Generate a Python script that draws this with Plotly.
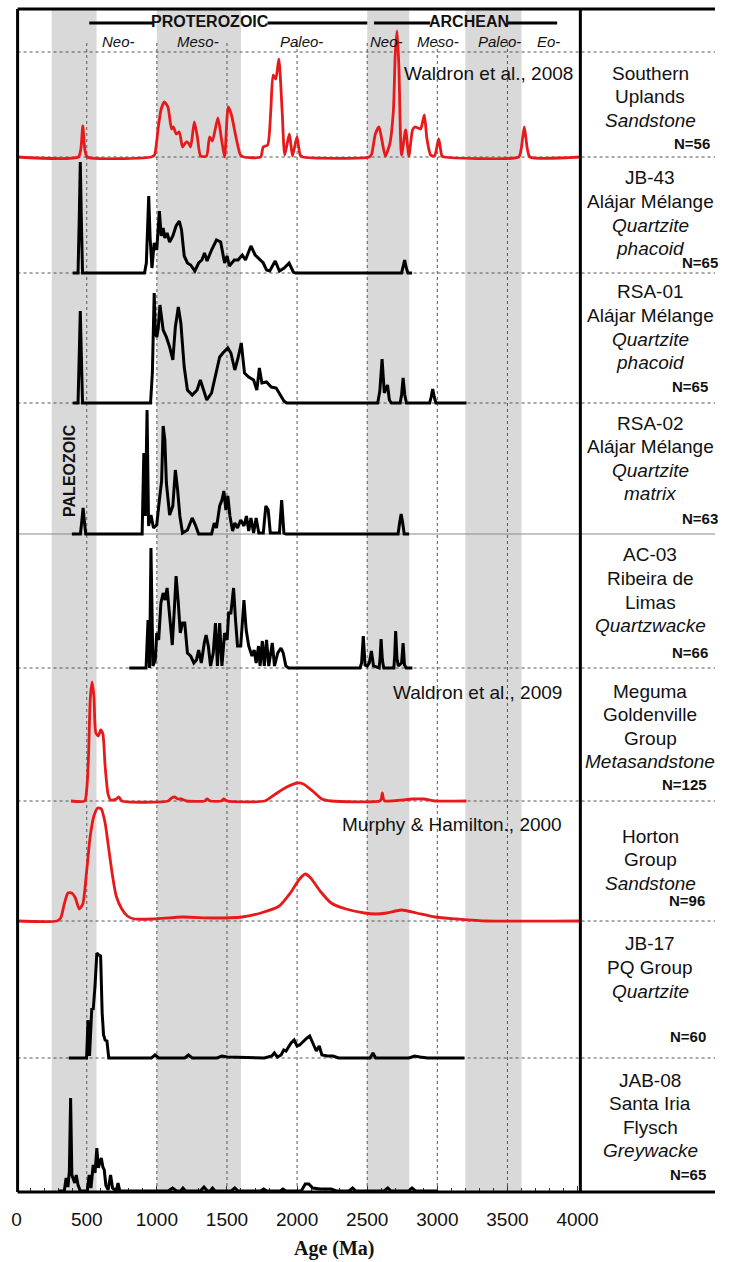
import plotly.graph_objects as go

# ---------------- detrital zircon age spectra (age Ma, relative probability) ----------------
southern_uplands = [(0, 0), (440, 0), (458, 8), (472, 31), (486, 8), (504, 0), (960, 0), (983, 2), (1010, 30),
                    (1031, 48), (1054, 55), (1079, 50), (1105, 28), (1118, 30), (1138, 23), (1160, 25), (1183, 10),
                    (1209, 15), (1225, 14), (1241, 10), (1267, 35), (1289, 20), (1312, 1), (1354, 1), (1376, 20),
                    (1396, 16), (1435, 39), (1461, 18), (1483, 0), (1509, 50), (1532, 42), (1564, 20), (1596, 2),
                    (1620, 0), (1740, 0), (1758, 10), (1790, 12), (1812, 45), (1829, 82), (1848, 78), (1870, 98),
                    (1893, 47), (1912, 2), (1945, 23), (1967, 1), (1999, 20), (2022, 2), (2040, 0), (2515, 0),
                    (2532, 3), (2558, 23), (2584, 30), (2606, 16), (2629, 1), (2661, 13), (2687, 47), (2700, 103),
                    (2713, 126), (2726, 90), (2745, 2), (2774, 27), (2797, 1), (2823, 27), (2839, 30), (2862, 29),
                    (2881, 28), (2907, 42), (2926, 18), (2952, 2), (2980, 1), (3010, 18), (3033, 1), (3050, 0),
                    (3580, 0), (3598, 8), (3620, 30), (3642, 8), (3660, 0), (4020, 0)]

jb43 = [(400, 0), (438, 0), (446, 50), (454, 111), (462, 50), (470, 0), (912, 0), (925, 10), (942, 77), (952, 35),
        (965, 5), (981, 30), (999, 23), (1018, 62), (1031, 37), (1045, 45), (1057, 35), (1073, 40), (1091, 31),
        (1114, 37), (1137, 47), (1160, 52), (1176, 43), (1195, 17), (1218, 10), (1241, 8), (1271, 2), (1298, 10),
        (1321, 13), (1340, 20), (1358, 12), (1390, 23), (1425, 33), (1455, 31), (1483, 10), (1501, 17), (1517, 7),
        (1552, 13), (1579, 13), (1609, 18), (1632, 13), (1671, 27), (1701, 18), (1736, 13), (1759, 10), (1782, 3),
        (1805, 2), (1844, 12), (1874, 2), (1908, 5), (1943, 10), (1973, 1), (1989, 0), (2745, 0), (2757, 6),
        (2767, 13), (2777, 6), (2790, 0), (2820, 0)]

rsa01 = [(400, 0), (438, 0), (446, 45), (454, 92), (462, 45), (470, 0), (955, 0), (968, 30), (981, 110), (990, 70),
         (1000, 66), (1010, 75), (1022, 98), (1035, 80), (1045, 73), (1068, 66), (1091, 56), (1114, 43), (1132, 76),
         (1153, 96), (1171, 80), (1195, 36), (1218, 13), (1252, 8), (1287, 13), (1310, 23), (1333, 13), (1356, 3),
         (1390, 10), (1425, 33), (1448, 46), (1471, 50), (1506, 55), (1528, 50), (1556, 33), (1579, 45), (1602, 60),
         (1625, 30), (1655, 26), (1690, 23), (1713, 13), (1731, 35), (1749, 20), (1782, 21), (1816, 16), (1851, 15),
         (1885, 6), (1906, 2), (1925, 0), (2575, 0), (2590, 12), (2606, 44), (2622, 10), (2635, 14), (2645, 18),
         (2658, 3), (2672, 0), (2735, 0), (2745, 8), (2756, 25), (2768, 8), (2780, 0), (2945, 0), (2956, 6),
         (2967, 14), (2978, 6), (2990, 0), (3208, 0)]

rsa02 = [(394, 0), (455, 0), (465, 13), (474, 26), (483, 13), (493, 0), (895, 0), (907, 81), (918, 18), (930, 124),
         (941, 8), (958, 19), (976, 6), (999, 9), (1018, 34), (1034, 53), (1045, 108), (1057, 94), (1068, 51),
         (1091, 19), (1114, 28), (1132, 64), (1148, 44), (1164, 18), (1183, 1), (1218, 4), (1252, 16), (1275, 9),
         (1298, 0), (1390, 0), (1409, 11), (1425, 6), (1448, 28), (1464, 34), (1478, 43), (1492, 24), (1506, 38),
         (1521, 18), (1540, 3), (1556, 11), (1575, 6), (1598, 14), (1621, 8), (1639, 18), (1655, 3), (1671, 16),
         (1690, 1), (1708, 16), (1727, 1), (1759, 1), (1777, 28), (1794, 24), (1809, 1), (1874, 1), (1890, 34),
         (1906, 1), (1920, 0), (2720, 0), (2732, 12), (2742, 20), (2752, 12), (2764, 0), (2799, 0)]

ac03 = [(803, 0), (923, 0), (937, 48), (948, 0), (958, 120), (972, 2), (989, 8), (999, 35), (1013, 28), (1029, 65),
        (1045, 75), (1059, 68), (1073, 80), (1091, 55), (1110, 23), (1126, 62), (1137, 92), (1153, 65), (1167, 35),
        (1183, 45), (1199, 45), (1218, 15), (1241, 12), (1264, 5), (1282, 8), (1298, 18), (1317, 5), (1338, 25),
        (1351, 33), (1367, 22), (1383, 2), (1402, 15), (1418, 45), (1432, 2), (1448, 45), (1464, 2), (1483, 35),
        (1501, 28), (1512, 55), (1528, 55), (1547, 80), (1561, 48), (1575, 22), (1598, 22), (1621, 68), (1637, 38),
        (1655, 22), (1678, 12), (1694, 18), (1708, 5), (1725, 22), (1736, 2), (1752, 27), (1766, 2), (1782, 28),
        (1798, 2), (1823, 25), (1839, 2), (1862, 15), (1885, 20), (1901, 15), (1920, 2), (1939, 0), (2449, 0),
        (2460, 5), (2472, 32), (2485, 3), (2500, 2), (2515, 5), (2530, 17), (2545, 2), (2585, 0), (2592, 10),
        (2599, 29), (2608, 8), (2618, 0), (2690, 0), (2696, 12), (2703, 37), (2712, 10), (2722, 2), (2745, 5),
        (2756, 25), (2766, 3), (2778, 0), (2822, 0)]

meguma = [(387, 0), (485, 0), (500, 12), (512, 42), (525, 102), (538, 119), (551, 105), (565, 68), (583, 65),
          (599, 71), (615, 67), (631, 35), (652, 7), (670, 1), (690, 1), (710, 2), (729, 4), (750, 0), (1080, 0),
          (1105, 3), (1128, 4), (1150, 2), (1173, 2), (1212, 0), (1340, 0), (1358, 2), (1380, 0), (1460, 0),
          (1477, 2), (1500, 0), (1768, 0), (1846, 7), (1926, 14), (2005, 18), (2044, 17), (2111, 10), (2177, 2),
          (2243, 0), (2590, 0), (2600, 2), (2608, 8), (2616, 2), (2626, 0), (2824, 2), (2904, 2), (2983, 0),
          (3208, 0)]

horton = [(0, 0), (287, 0), (314, 3), (340, 17), (366, 28), (393, 28), (419, 23), (446, 12), (472, 17), (498, 48),
          (525, 85), (551, 105), (578, 113), (604, 112), (631, 98), (657, 72), (684, 45), (710, 25), (750, 12),
          (789, 5), (842, 2), (974, 2), (1186, 4), (1397, 3), (1608, 4), (1741, 8), (1873, 15), (1952, 28),
          (2018, 42), (2058, 47), (2097, 43), (2164, 30), (2243, 18), (2349, 12), (2481, 8), (2560, 7), (2640, 8),
          (2745, 11), (2851, 8), (2983, 4), (3142, 2), (3353, 0), (4020, 0)]

jb17 = [(372, 0), (499, 0), (509, 38), (520, 2), (536, 50), (546, 48), (559, 72), (572, 105), (586, 103), (599, 102),
        (610, 45), (620, 23), (631, 18), (644, 17), (657, 0), (961, 0), (987, 3), (1014, 0), (1199, 0), (1225, 3),
        (1252, 0), (1430, 0), (1463, 2), (1503, 1), (1767, 0), (1820, 2), (1838, 5), (1860, 1), (1886, 3),
        (1905, 8), (1921, 7), (1939, 11), (1957, 15), (1979, 18), (2000, 12), (2018, 13), (2045, 17), (2071, 20),
        (2090, 22), (2111, 15), (2137, 7), (2158, 12), (2177, 3), (2217, 2), (2256, 2), (2296, 0), (2521, 0),
        (2541, 5), (2560, 0), (2798, 0), (2838, 2), (2877, 1), (2930, 0), (3194, 0)]

jab08 = [(300, 0), (340, 0), (353, 13), (366, 4), (376, 20), (385, 93), (394, 16), (414, 8), (425, 16), (438, 6),
         (454, 0), (504, 0), (517, 16), (530, 3), (546, 26), (559, 18), (572, 43), (583, 23), (594, 29), (604, 33),
         (615, 24), (625, 21), (636, 6), (652, 1), (670, 16), (684, 3), (710, 0), (723, 8), (736, 0), (1080, 0),
         (1112, 3), (1140, 0), (1170, 0), (1186, 3), (1205, 0), (1310, 0), (1336, 4), (1360, 0), (1380, 0),
         (1397, 3), (1415, 0), (1530, 0), (1556, 3), (1580, 0), (1740, 0), (1762, 2), (1785, 0), (1880, 0),
         (1899, 2), (1920, 0), (2030, 0), (2058, 7), (2084, 7), (2111, 3), (2164, 2), (2243, 2), (2280, 0),
         (2370, 0), (2396, 3), (2420, 0), (2620, 0), (2647, 3), (2670, 0), (2795, 0), (2819, 3), (2845, 0),
         (3000, 0)]

# sample descriptions: (text, italic) lines, and number of analyses
sample_lines = [
    [("Southern", 0), ("Uplands", 0), ("Sandstone", 1)],
    [("JB-43", 0), ("Alájar Mélange", 0), ("Quartzite", 1), ("phacoid", 1)],
    [("RSA-01", 0), ("Alájar Mélange", 0), ("Quartzite", 1), ("phacoid", 1)],
    [("RSA-02", 0), ("Alájar Mélange", 0), ("Quartzite", 1), ("matrix", 1)],
    [("AC-03", 0), ("Ribeira de", 0), ("Limas", 0), ("Quartzwacke", 1)],
    [("Meguma", 0), ("Goldenville", 0), ("Group", 0), ("Metasandstone", 1)],
    [("Horton", 0), ("Group", 0), ("Sandstone", 1)],
    [("JB-17", 0), ("PQ Group", 0), ("Quartzite", 1)],
    [("JAB-08", 0), ("Santa Iria", 0), ("Flysch", 0), ("Greywacke", 1)],
]
sample_n = ["N=56", "N=65", "N=65", "N=63", "N=66", "N=125", "N=96", "N=60", "N=65"]
published = [True, False, False, False, False, True, True, False, False]
sources = {0: "Waldron et al., 2008", 5: "Waldron et al., 2009", 6: "Murphy & Hamilton., 2000"}
curves = [southern_uplands, jb43, rsa01, rsa02, ac03, meguma, horton, jb17, jab08]

# geologic time divisions
shaded_intervals = [(250, 570), (1000, 1600), (2500, 2800), (3200, 3600)]
grid_ages = [500, 1000, 1500, 2000, 2500, 3000, 3500]
era_labels = [("Neo-", 117), ("Meso-", 199), ("Paleo-", 306), ("Neo-", 394), ("Meso-", 447), ("Paleo-", 511), ("Eo-", 561)]

# ---------------- layout geometry (pixels) ----------------
W, H = 733, 1262
X_LEFT, X_DIV = 13, 594
Y_TOP, Y_HEAD, Y_AXIS = 9, 52, 1192
baselines = [157, 273, 403, 534, 668, 801, 921, 1058, 1191]
line_y0 = [73, 178, 292, 423, 555, 691, 836, 944, 1080]
n_y = [144, 263, 387, 518, 653, 784, 900, 1036, 1174]
n_x = [730, 738, 728, 738, 728, 727, 725, 726, 726]
STEP = 23.6
REACH = 140

RED = "#e8191b"
FONT = "Liberation Sans, Arial, sans-serif"
TXT = "#111111"


def px(x):
    return x / W


def py(y):
    return 1 - y / H


fig = go.Figure()
layout_axes = {}
for k, (curve, red, b) in enumerate(zip(curves, published, baselines)):
    yname = "y" if k == 0 else f"y{k + 1}"
    fig.add_trace(go.Scatter(
        x=[a for a, _ in curve], y=[p for _, p in curve], mode="lines",
        line=dict(color=RED if red else "#000000", width=2.8 if red else 3,
                  shape="spline" if red else "linear", smoothing=0.6),
        xaxis="x", yaxis=yname, hoverinfo="skip", showlegend=False))
    layout_axes["yaxis" if k == 0 else f"yaxis{k + 1}"] = dict(
        domain=[py(b + 3), py(b - REACH)], range=[-3, REACH], visible=False,
        fixedrange=True, anchor="x")

shapes = []
for a0, a1 in shaded_intervals:
    shapes.append(dict(type="rect", xref="x", yref="paper", x0=a0, x1=a1, y0=py(Y_AXIS), y1=py(Y_TOP),
                       fillcolor="#d9d9d9", line=dict(width=0), layer="below"))
for a in grid_ages:
    shapes.append(dict(type="line", xref="x", yref="paper", x0=a, x1=a, y0=py(Y_AXIS), y1=py(43),
                       line=dict(color="#555555", width=1, dash="dot"), layer="below"))
for i, yy in enumerate([Y_HEAD] + baselines[:-1]):
    solid = (yy == 534)
    shapes.append(dict(type="line", xref="paper", yref="paper", x0=px(X_LEFT), x1=1, y0=py(yy), y1=py(yy),
                       line=dict(color="#8a8a8a" if solid else "#555555", width=1.2 if solid else 1,
                                 dash="solid" if solid else "dot"), layer="below"))
# frame
for x0, y0, x1, y1 in [(X_LEFT, Y_TOP, X_LEFT, Y_AXIS), (X_LEFT, Y_TOP, W, Y_TOP),
                       (X_LEFT, Y_AXIS, W, Y_AXIS), (X_DIV, Y_TOP, X_DIV, Y_AXIS)]:
    shapes.append(dict(type="line", xref="paper", yref="paper", x0=px(x0), x1=px(x1), y0=py(y0), y1=py(y1),
                       line=dict(color="#000000", width=3), layer="above"))
# eon bars in the header
for x0, x1 in [(87, 153), (271, 374), (381, 439), (519, 570)]:
    shapes.append(dict(type="line", xref="paper", yref="paper", x0=px(x0), x1=px(x1), y0=py(23), y1=py(23),
                       line=dict(color="#000000", width=3), layer="above"))

ann = []
ann.append(dict(text="<b>PROTEROZOIC</b>", x=px(212), y=py(22), size=16))
ann.append(dict(text="<b>ARCHEAN</b>", x=px(479), y=py(22), size=16))
for t, xx in era_labels:
    ann.append(dict(text=f"<i>{t}</i>", x=px(xx), y=py(42), size=15))
for k, lines in enumerate(sample_lines):
    for j, (t, it) in enumerate(lines):
        ann.append(dict(text=f"<i>{t}</i>" if it else t, x=px(666), y=py(line_y0[k] + j * STEP), size=19))
    ann.append(dict(text=f"<b>{sample_n[k]}</b>", x=px(n_x[k]), y=py(n_y[k]), size=15, xanchor="right"))
src_pos = {0: (588, 73), 5: (577, 692), 6: (577, 824)}
for k, t in sources.items():
    ann.append(dict(text=t, x=px(src_pos[k][0]), y=py(src_pos[k][1]), size=19, xanchor="right"))
ann.append(dict(text="<b>PALEOZOIC</b>", x=px(66), y=py(470), size=16, textangle=-90))
ann.append(dict(text="<b>Age (Ma)</b>", x=px(340), y=py(1248), size=20,
                family="Liberation Serif, Times New Roman, serif"))

annotations = []
for a in ann:
    annotations.append(dict(
        text=a["text"], x=a["x"], y=a["y"], xref="paper", yref="paper", showarrow=False,
        xanchor=a.get("xanchor", "center"), yanchor="middle", textangle=a.get("textangle", 0),
        font=dict(family=a.get("family", FONT), size=a.get("size", 17), color=TXT)))

fig.update_layout(
    width=W, height=H, margin=dict(l=0, r=0, t=0, b=0),
    paper_bgcolor="white", plot_bgcolor="rgba(0,0,0,0)",
    showlegend=False, shapes=shapes, annotations=annotations,
    xaxis=dict(domain=[px(12), px(X_DIV)], range=[0, 4020], anchor="free", position=py(Y_AXIS),
               tickmode="array", tickvals=[0, 500, 1000, 1500, 2000, 2500, 3000, 3500, 4000],
               ticks="inside", ticklen=6, tickwidth=1, tickcolor="#333333",
               minor=dict(dtick=100, ticks="inside", ticklen=4, tickwidth=1, tickcolor="#333333", showgrid=False),
               showgrid=False, zeroline=False, showline=False, fixedrange=True,
               tickfont=dict(family=FONT, size=19, color=TXT), ticklabelstandoff=14),
    **layout_axes,
)

fig.write_html("out.html")
